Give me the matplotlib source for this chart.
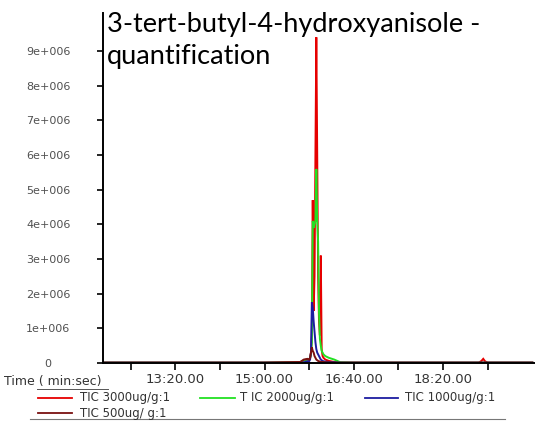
import matplotlib
matplotlib.use("Agg")
import matplotlib.pyplot as plt
from matplotlib.lines import Line2D

# ---- data (time in seconds, intensity in millions of counts) ----
times = [720, 760, 800, 850, 900, 940, 944, 948, 950, 951, 952, 953, 954, 955, 956,
         957, 958, 959, 960, 961, 962, 963, 964, 965, 966, 968, 972, 978, 985,
         1000, 1050, 1100, 1140, 1143, 1145, 1147, 1150, 1200]

tic_3000 = [0.01, 0.01, 0.01, 0.01, 0.01, 0.02, 0.08, 0.1, 0.1, 0.15, 0.3, 0.8, 4.7, 1.5, 2.5,
            6.0, 9.4, 6.0, 2.5, 1.2, 0.8, 3.1, 0.4, 0.2, 0.15, 0.1, 0.06, 0.03, 0.01,
            0.01, 0.01, 0.01, 0.01, 0.06, 0.12, 0.05, 0.01, 0.01]
tic_2000 = [0.01, 0.01, 0.01, 0.01, 0.01, 0.02, 0.08, 0.1, 0.1, 0.15, 0.25, 0.6, 4.1, 3.9, 4.0,
            4.1, 5.6, 4.1, 3.5, 1.5, 0.7, 0.5, 0.35, 0.3, 0.25, 0.2, 0.15, 0.1, 0.02,
            0.01, 0.01, 0.01, 0.01, 0.01, 0.01, 0.01, 0.01, 0.01]
tic_1000 = [0.01, 0.01, 0.01, 0.01, 0.01, 0.01, 0.02, 0.05, 0.05, 0.1, 0.3, 1.75, 1.6, 1.2, 0.9,
            0.6, 0.4, 0.3, 0.25, 0.2, 0.15, 0.1, 0.08, 0.06, 0.05, 0.04, 0.03, 0.02, 0.01,
            0.01, 0.01, 0.01, 0.01, 0.01, 0.01, 0.01, 0.01, 0.01]
tic_500 = [0.01, 0.01, 0.01, 0.01, 0.01, 0.03, 0.1, 0.12, 0.1, 0.15, 0.3, 0.45, 0.35, 0.3, 0.2,
           0.15, 0.1, 0.08, 0.06, 0.05, 0.04, 0.03, 0.03, 0.03, 0.03, 0.02, 0.02, 0.01, 0.01,
           0.01, 0.01, 0.01, 0.01, 0.01, 0.01, 0.01, 0.01, 0.01]

series_labels = ["TIC 3000ug/g:1", "T IC 2000ug/g:1", "TIC 1000ug/g:1", "TIC 500ug/ g:1"]
series_colors = ["#e60000", "#22e022", "#1c1ca0", "#7a1010"]
ytick_vals = [0, 1e6, 2e6, 3e6, 4e6, 5e6, 6e6, 7e6, 8e6, 9e6]
ytick_labels = ["0", "1e+006", "2e+006", "3e+006", "4e+006", "5e+006",
                "6e+006", "7e+006", "8e+006", "9e+006"]
xtick_vals = [750, 800, 850, 900, 950, 1000, 1050, 1100, 1150]
xtick_labels = ["", "13:20.00", "", "15:00.00", "", "16:40.00", "", "18:20.00", ""]
title_text = "3-tert-butyl-4-hydroxyanisole -\nquantification"

W, H = 535, 421
fig = plt.figure(figsize=(W / 100, H / 100), dpi=100)
ax = fig.add_axes([103 / W, (H - 363) / H, (W - 103) / W, (363 - 13) / H])

all_series = [tic_3000, tic_2000, tic_1000, tic_500]
for vals, col in zip(all_series, series_colors):
    ax.plot(times, [v * 1e6 for v in vals], color=col, lw=1.4, solid_joinstyle="miter")

ax.set_xlim(719, 1203)
ax.set_ylim(0, 10.1e6)
ax.spines["top"].set_visible(False)
ax.spines["right"].set_visible(False)
for s in ("left", "bottom"):
    ax.spines[s].set_linewidth(1.4)
    ax.spines[s].set_color("black")

ax.set_yticks(ytick_vals)
ax.set_yticklabels(ytick_labels, fontsize=8, color="#505050")
ax.tick_params(axis="y", direction="out", length=4, width=1.2, pad=35.5)
for lbl in ax.get_yticklabels():
    lbl.set_horizontalalignment("center")
ax.set_xticks(xtick_vals)
ax.set_xticklabels(xtick_labels, fontsize=9.5, color="#333333")
ax.tick_params(axis="x", direction="out", length=5, width=1.2, pad=2)

# title overlay
fig.text(107 / W, 1 - 12 / H, title_text, fontsize=19.5, family="Lato",
         va="top", ha="left", color="black", linespacing=1.33)

# time label
fig.text(4 / W, 1 - 381 / H, "Time ( min:sec)", fontsize=9, color="#333333",
         va="center", ha="left")
fig.add_artist(Line2D([37 / W, 108 / W], [1 - 389 / H] * 2, color="#555555", lw=0.7))

# legend drawn manually
leg_pos = [(38, 72, 80, 398), (200, 235, 240, 398), (365, 398, 405, 398), (38, 72, 80, 413)]
for (x0, x1, xt, y), lab, col in zip(leg_pos, series_labels, series_colors):
    fig.add_artist(Line2D([x0 / W, x1 / W], [1 - y / H] * 2, color=col, lw=1.3))
    fig.text(xt / W, 1 - y / H, lab, fontsize=8.5, color="#333333", va="center", ha="left")
fig.add_artist(Line2D([30 / W, 505 / W], [1 - 419 / H] * 2, color="#777777", lw=0.8))

fig.savefig("out.png", dpi=100)
